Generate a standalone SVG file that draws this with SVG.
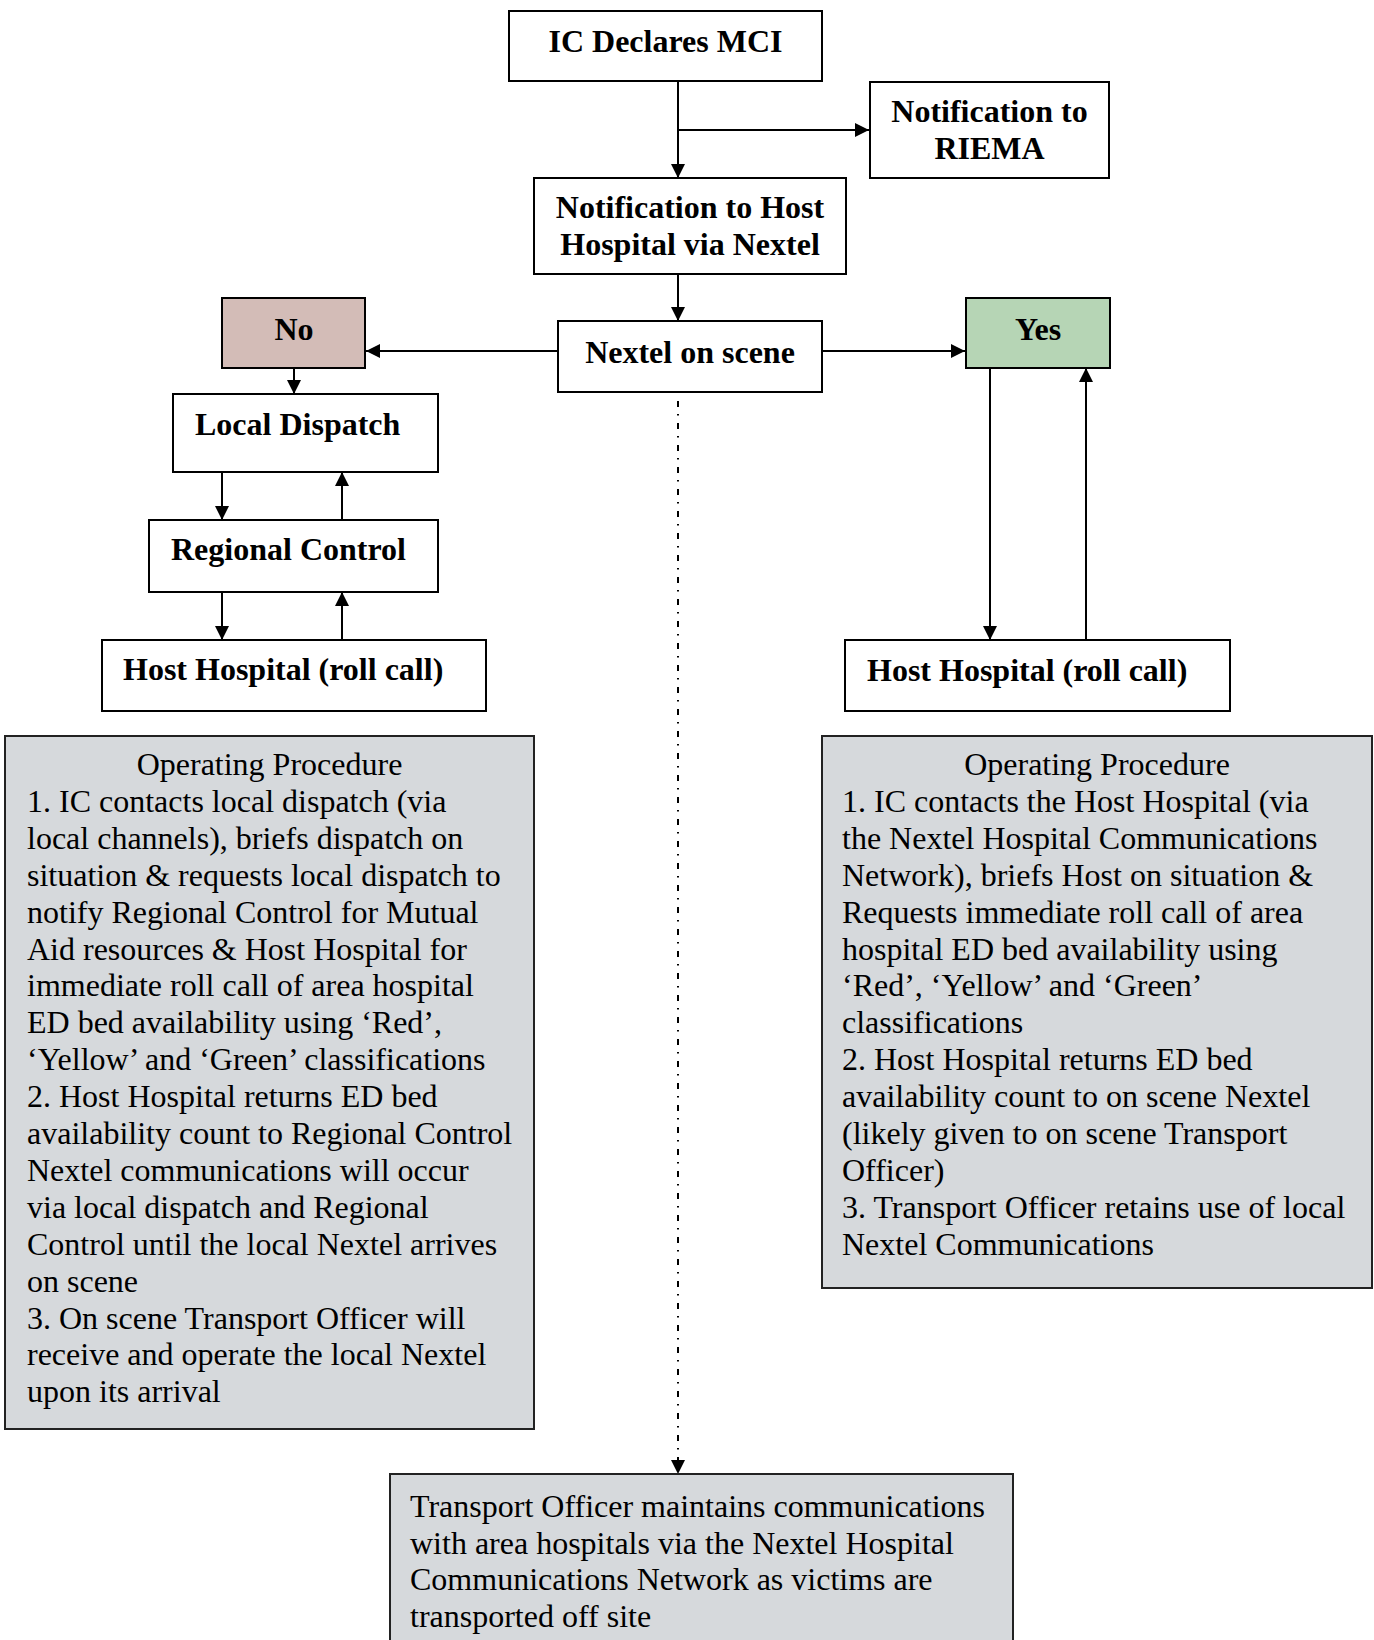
<svg xmlns="http://www.w3.org/2000/svg" width="1374" height="1640" viewBox="0 0 1374 1640">
<defs>
<marker id="ah" markerUnits="userSpaceOnUse" markerWidth="14" markerHeight="14" refX="14" refY="7" orient="auto">
<path d="M0,0 L14,7 L0,14 z" fill="#000"/>
</marker>
<style>
.box{fill:#fff;stroke:#000;stroke-width:2}
.no{fill:#d3bcb7;stroke:#000;stroke-width:2}
.yes{fill:#b6d5b5;stroke:#000;stroke-width:2}
.grey{fill:#d6d9dc;stroke:#222;stroke-width:2}
.b{font-family:"Liberation Serif","Times New Roman",serif;font-weight:bold;font-size:32px;fill:#000}
.c{text-anchor:middle}
.t{font-family:"Liberation Serif","Times New Roman",serif;font-size:32px;fill:#000}
.ln{stroke:#000;stroke-width:2;fill:none;marker-end:url(#ah)}
.dash{stroke:#000;stroke-width:2;fill:none;stroke-dasharray:6 7 1.5 7.5;marker-end:url(#ah)}
</style>
</defs>
<rect width="1374" height="1640" fill="#fff"/>
<g id="connectors">
<line class="ln" x1="678" y1="81" x2="678" y2="178"/>
<line class="ln" x1="678" y1="130" x2="869" y2="130"/>
<line class="ln" x1="678" y1="274" x2="678" y2="321"/>
<line class="ln" x1="558" y1="351" x2="366" y2="351"/>
<line class="ln" x1="822" y1="351" x2="965" y2="351"/>
<line class="ln" x1="294" y1="368" x2="294" y2="394"/>
<line class="ln" x1="222" y1="472" x2="222" y2="520"/>
<line class="ln" x1="342" y1="520" x2="342" y2="472"/>
<line class="ln" x1="222" y1="592" x2="222" y2="640"/>
<line class="ln" x1="342" y1="640" x2="342" y2="592"/>
<line class="ln" x1="990" y1="368" x2="990" y2="640"/>
<line class="ln" x1="1086" y1="640" x2="1086" y2="368"/>
<line class="dash" x1="678" y1="401" x2="678" y2="1474"/>
</g>
<g id="ic-declares">
<rect class="box" x="509" y="11" width="313" height="70"/>
<text class="b c" x="665.5" y="52">IC Declares MCI</text>
</g>
<g id="riema">
<rect class="box" x="870" y="82" width="239" height="96"/>
<text class="b c" x="989.5" y="122">Notification to</text>
<text class="b c" x="989.5" y="159">RIEMA</text>
</g>
<g id="host-notify">
<rect class="box" x="534" y="178" width="312" height="96"/>
<text class="b c" x="690" y="218">Notification to Host</text>
<text class="b c" x="690" y="255">Hospital via Nextel</text>
</g>
<g id="nextel">
<rect class="box" x="558" y="321" width="264" height="71"/>
<text class="b c" x="690" y="363">Nextel on scene</text>
</g>
<g id="no">
<rect class="no" x="222" y="298" width="143" height="70"/>
<text class="b c" x="294" y="340">No</text>
</g>
<g id="yes">
<rect class="yes" x="966" y="298" width="144" height="70"/>
<text class="b c" x="1038" y="340">Yes</text>
</g>
<g id="local-dispatch">
<rect class="box" x="173" y="394" width="265" height="78"/>
<text class="b" x="195" y="435">Local Dispatch</text>
</g>
<g id="regional-control">
<rect class="box" x="149" y="520" width="289" height="72"/>
<text class="b" x="171" y="560">Regional Control</text>
</g>
<g id="host-left">
<rect class="box" x="102" y="640" width="384" height="71"/>
<text class="b" x="123" y="680">Host Hospital (roll call)</text>
</g>
<g id="host-right">
<rect class="box" x="845" y="640" width="385" height="71"/>
<text class="b" x="867" y="681">Host Hospital (roll call)</text>
</g>
<g id="proc-left">
<rect class="grey" x="5" y="736" width="529" height="693"/>
<text class="t c" x="269.5" y="775">Operating Procedure</text>
<text class="t" x="27" y="811.9">1. IC contacts local dispatch (via</text>
<text class="t" x="27" y="848.8">local channels), briefs dispatch on</text>
<text class="t" x="27" y="885.7">situation &amp; requests local dispatch to</text>
<text class="t" x="27" y="922.6">notify Regional Control for Mutual</text>
<text class="t" x="27" y="959.5">Aid resources &amp; Host Hospital for</text>
<text class="t" x="27" y="996.4">immediate roll call of area hospital</text>
<text class="t" x="27" y="1033.3">ED bed availability using ‘Red’,</text>
<text class="t" x="27" y="1070.2">‘Yellow’ and ‘Green’ classifications</text>
<text class="t" x="27" y="1107.1">2. Host Hospital returns ED bed</text>
<text class="t" x="27" y="1144">availability count to Regional Control</text>
<text class="t" x="27" y="1180.9">Nextel communications will occur</text>
<text class="t" x="27" y="1217.8">via local dispatch and Regional</text>
<text class="t" x="27" y="1254.7">Control until the local Nextel arrives</text>
<text class="t" x="27" y="1291.6">on scene</text>
<text class="t" x="27" y="1328.5">3. On scene Transport Officer will</text>
<text class="t" x="27" y="1365.4">receive and operate the local Nextel</text>
<text class="t" x="27" y="1402.3">upon its arrival</text>
</g>
<g id="proc-right">
<rect class="grey" x="822" y="736" width="550" height="552"/>
<text class="t c" x="1097" y="775">Operating Procedure</text>
<text class="t" x="842" y="811.9">1. IC contacts the Host Hospital (via</text>
<text class="t" x="842" y="848.8">the Nextel Hospital Communications</text>
<text class="t" x="842" y="885.7">Network), briefs Host on situation &amp;</text>
<text class="t" x="842" y="922.6">Requests immediate roll call of area</text>
<text class="t" x="842" y="959.5">hospital ED bed availability using</text>
<text class="t" x="842" y="996.4">‘Red’, ‘Yellow’ and ‘Green’</text>
<text class="t" x="842" y="1033.3">classifications</text>
<text class="t" x="842" y="1070.2">2. Host Hospital returns ED bed</text>
<text class="t" x="842" y="1107.1">availability count to on scene Nextel</text>
<text class="t" x="842" y="1144">(likely given to on scene Transport</text>
<text class="t" x="842" y="1180.9">Officer)</text>
<text class="t" x="842" y="1217.8">3. Transport Officer retains use of local</text>
<text class="t" x="842" y="1254.7">Nextel Communications</text>
</g>
<g id="transport">
<rect class="grey" x="390" y="1474" width="623" height="175"/>
<text class="t" x="410" y="1517">Transport Officer maintains communications</text>
<text class="t" x="410" y="1553.7">with area hospitals via the Nextel Hospital</text>
<text class="t" x="410" y="1590.4">Communications Network as victims are</text>
<text class="t" x="410" y="1627.1">transported off site</text>
</g>
</svg>
